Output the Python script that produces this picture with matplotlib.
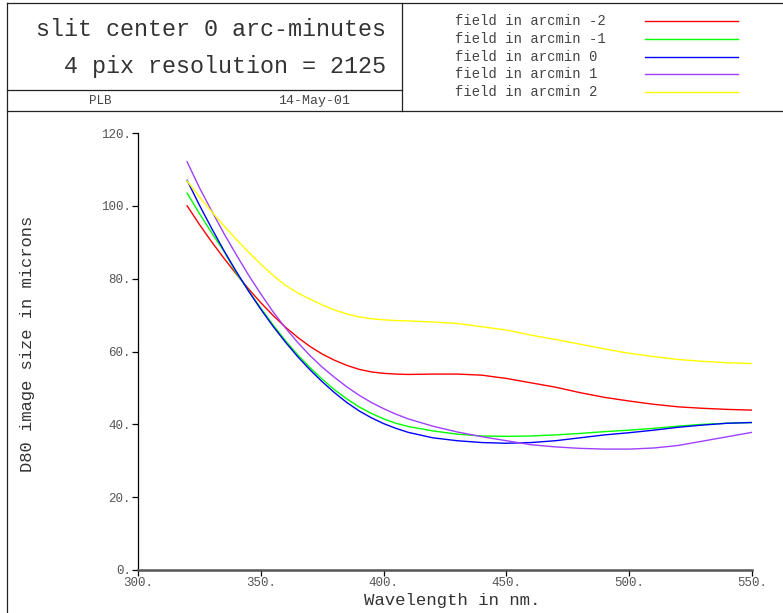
import matplotlib.pyplot as plt
from matplotlib.lines import Line2D

W, H = 783, 613

wavelength = [320, 325, 330, 335, 340, 345, 350, 355, 360, 365, 370, 375, 380,
              385, 390, 395, 400, 405, 410, 420, 430, 440, 450, 460, 470, 480,
              490, 500, 510, 520, 530, 540, 550]

field_m2 = [100.0, 94.9, 90.1, 85.6, 81.3, 77.2, 73.4, 69.9, 66.7, 63.9, 61.4, 59.3, 57.6,
            56.2, 55.1, 54.4, 54.0, 53.8, 53.7, 53.8, 53.8, 53.5, 52.6, 51.4, 50.2, 48.7,
            47.4, 46.4, 45.5, 44.8, 44.4, 44.1, 43.9]
field_m1 = [103.5, 97.9, 92.6, 87.5, 81.6, 76.7, 71.9, 67.3, 63.0, 59.1, 55.6, 52.4, 49.5,
            47.0, 44.8, 43.0, 41.5, 40.3, 39.4, 38.2, 37.3, 36.8, 36.7, 36.8, 37.1, 37.5,
            38.0, 38.4, 38.9, 39.5, 40.0, 40.3, 40.5]
field_0 = [107.0, 100.2, 93.8, 87.7, 82.0, 76.6, 71.6, 66.9, 62.6, 58.6, 55.0, 51.7, 48.7,
           46.0, 43.7, 41.8, 40.2, 38.9, 37.8, 36.3, 35.5, 35.0, 34.8, 35.0, 35.5, 36.3,
           37.1, 37.7, 38.4, 39.2, 39.8, 40.3, 40.5]
field_p1 = [112.1, 105.0, 98.6, 92.4, 86.6, 81.0, 75.8, 70.9, 66.5, 62.5, 58.9, 55.7, 52.9,
            50.3, 48.0, 46.0, 44.3, 42.8, 41.5, 39.5, 37.9, 36.6, 35.5, 34.4, 33.8, 33.4,
            33.2, 33.2, 33.5, 34.2, 35.4, 36.6, 37.8]
field_p2 = [106.8, 102.5, 98.4, 94.5, 90.8, 87.3, 84.0, 80.9, 78.2, 76.1, 74.4, 72.8, 71.4,
            70.3, 69.5, 69.0, 68.7, 68.5, 68.4, 68.1, 67.7, 66.8, 65.9, 64.5, 63.3, 62.0,
            60.7, 59.5, 58.6, 57.8, 57.3, 56.9, 56.7]

series = [field_m2, field_m1, field_0, field_p1, field_p2]
labels = ['field in arcmin -2', 'field in arcmin -1', 'field in arcmin 0',
          'field in arcmin 1', 'field in arcmin 2']
colors = ['#ff0000', '#00ff00', '#0000ff', '#a040ff', '#ffff00']

xticks = [300, 350, 400, 450, 500, 550]
yticks = [0, 20, 40, 60, 80, 100, 120]

mono = 'Liberation Mono'


def fx(px):
    return px / W


def fy(py):
    return 1 - py / H


fig = plt.figure(figsize=(W / 100, H / 100), dpi=100)

# header frame
frame = dict(color='#222222', lw=0.9)
fig.add_artist(Line2D([fx(7), 1], [fy(3), fy(3)], **frame))
fig.add_artist(Line2D([fx(7), fx(7)], [fy(3), 0], **frame))
fig.add_artist(Line2D([fx(7), 1], [fy(111), fy(111)], **frame))
fig.add_artist(Line2D([fx(402), fx(402)], [fy(3), fy(111)], **frame))
fig.add_artist(Line2D([fx(7), fx(402)], [fy(90), fy(90)], **frame))

fig.text(fx(386), fy(30), 'slit center 0 arc-minutes', family=mono, fontsize=16.8,
         ha='right', va='center', color='#333333')
fig.text(fx(386), fy(67), '4 pix resolution = 2125', family=mono, fontsize=16.8,
         ha='right', va='center', color='#333333')
fig.text(fx(100), fy(101), 'PLB', family=mono, fontsize=9, ha='center', va='center',
         color='#444444')
fig.text(fx(314), fy(101), '14-May-01', family=mono, fontsize=9.5, ha='center', va='center',
         color='#444444')

# legend in header
for i, (lab, c) in enumerate(zip(labels, colors)):
    yy = 21 + i * 17.8
    fig.text(fx(455), fy(yy), lab, family=mono, fontsize=10, ha='left', va='center',
             color='#444444')
    fig.add_artist(Line2D([fx(645), fx(738)], [fy(yy), fy(yy)], color=c, lw=1.0))

ax = fig.add_axes([fx(138), fy(570), fx(752) - fx(138), fy(133) - fy(570)])
for vals, c in zip(series, colors):
    ax.plot(wavelength, vals, color=c, lw=1.0)

ax.set_xlim(300, 550)
ax.set_ylim(0, 120)
ax.set_xticks(xticks)
ax.set_xticklabels([f'{t}.' for t in xticks])
ax.set_yticks(yticks)
ax.set_yticklabels([f'{t}.' for t in yticks])
ax.spines['top'].set_visible(False)
ax.spines['right'].set_visible(False)
ax.spines['left'].set_linewidth(0.9)
ax.spines['bottom'].set_linewidth(1.8)
ax.spines['bottom'].set_color('#555555')
ax.tick_params(axis='both', direction='out', length=4, width=0.9, pad=1,
               labelsize=9, labelcolor='#555555')
for lab in ax.get_xticklabels() + ax.get_yticklabels():
    lab.set_family(mono)

fig.text(fx(452), fy(600), 'Wavelength in nm.', family=mono, fontsize=12.5,
         ha='center', va='center', color='#333333')
fig.text(fx(28), fy(344), 'D80 image size in microns', family=mono, fontsize=12.3,
         ha='center', va='center', rotation=90, color='#333333')

fig.savefig('out.png', dpi=100)
